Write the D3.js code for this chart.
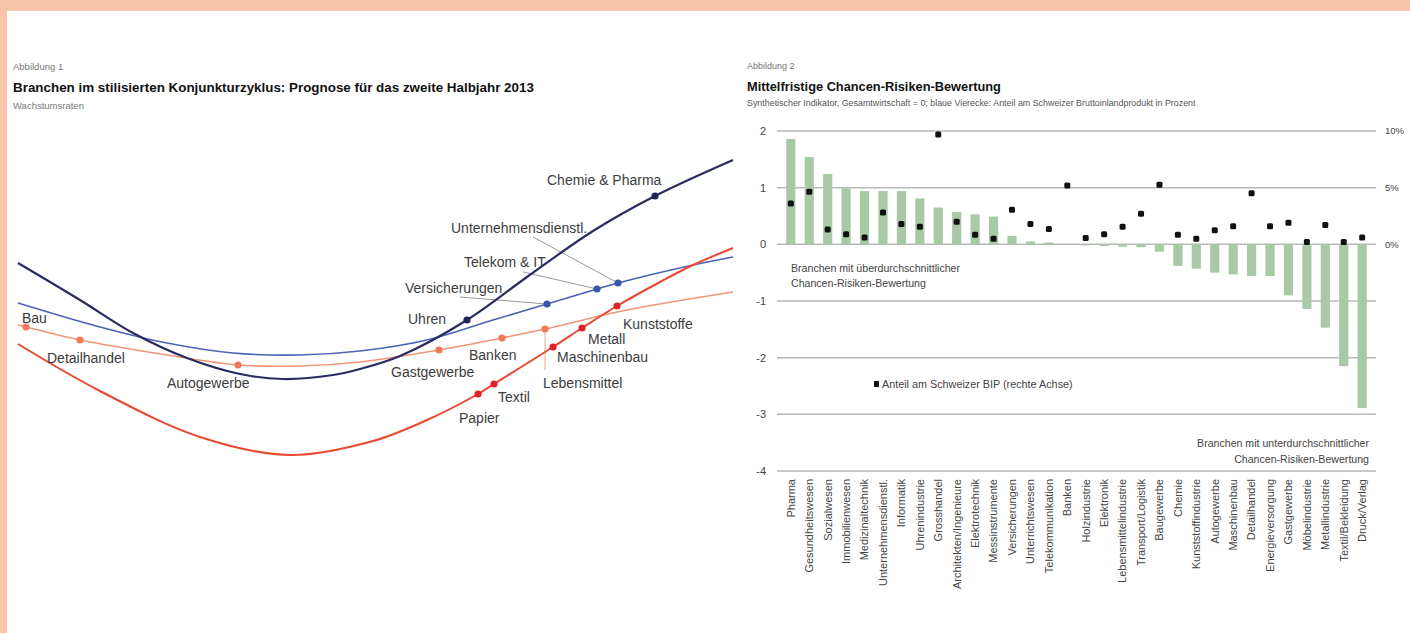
<!DOCTYPE html>
<html>
<head>
<meta charset="utf-8">
<script src="https://cdn.jsdelivr.net/npm/d3@7"></script>
<style>
  body { margin: 0; background: #fff; }
  text { font-family: "Liberation Sans", Arial, sans-serif; }
</style>
</head>
<body>
<script>
// ---------- data: Abbildung 1 (stilisierter Konjunkturzyklus) ----------
// [phase, wachstum] in arbitrary units
var navyCurve = [[0,41.4],[12.4,34],[23,27.4],[33.8,22.4],[44.4,19.2],[53,18.2],[63,19],[68.4,20.2],[76.4,22.8],[89.8,30],[101.8,38.6],[115,47.8],[127.4,54.8],[143,62]];
var blueCurve = [[0,33.4],[16.4,28.6],[29.8,25.4],[43,23.4],[56.4,23],[68.4,23.8],[81.8,26],[95,30],[105.8,33.2],[115.8,36.2],[120,37.4],[135,41],[143,42.6]];
var salmonCurve = [[0,29],[1.6,28.6],[12.4,26],[29.8,23],[44,21],[56.4,20.8],[68.4,21.6],[84.2,24],[96.8,26.4],[105.4,28.2],[121.8,32],[143,35.6]];
var redCurve = [[0,25.2],[16.4,15.8],[36.4,6.6],[54.4,3],[71,5.8],[81.8,10],[92,15.2],[95.2,17.2],[107,24.6],[112.8,28.4],[119.8,32.8],[128.4,37.6],[135,41],[143,44.4]];

var navyDots = [["Uhren",89.8,30],["Chemie & Pharma",127.4,54.8]];
var blueDots = [["Versicherungen",105.8,33.2],["Telekom & IT",115.8,36.2],["Unternehmensdienstl.",120,37.4]];
var salmonDots = [["Bau",1.6,28.6],["Detailhandel",12.4,26],["Autogewerbe",44,21],["Gastgewerbe",84.2,24],["Banken",96.8,26.4],["Lebensmittel",105.4,28.2]];
var redDots = [["Papier",92,15.2],["Textil",95.2,17.2],["Maschinenbau",107,24.6],["Metall",112.8,28.4],["Kunststoffe",119.8,32.8]];

// ---------- data: Abbildung 2 (Chancen-Risiken-Bewertung) ----------
var branchen = ["Pharma","Gesundheitswesen","Sozialwesen","Immobilienwesen","Medizinaltechnik","Unternehmensdienstl.","Informatik","Uhrenindustrie","Grosshandel","Architekten/Ingenieure","Elektrotechnik","Messinstrumente","Versicherungen","Unterrichtswesen","Telekommunikation","Banken","Holzindustrie","Elektronik","Lebensmittelindustrie","Transport/Logistik","Baugewerbe","Chemie","Kunststoffindustrie","Autogewerbe","Maschinenbau","Detailhandel","Energieversorgung","Gastgewerbe","Möbelindustrie","Metallindustrie","Textil/Bekleidung","Druck/Verlag"];
var indikator = [1.86,1.54,1.24,0.99,0.94,0.94,0.94,0.81,0.65,0.57,0.53,0.49,0.15,0.05,0.03,-0.01,-0.02,-0.03,-0.04,-0.05,-0.13,-0.38,-0.43,-0.5,-0.53,-0.56,-0.56,-0.9,-1.14,-1.47,-2.15,-2.89];
var bipAnteil = [3.6,4.65,1.3,0.9,0.6,2.8,1.8,1.55,9.7,2.0,0.85,0.5,3.05,1.8,1.35,5.2,0.55,0.9,1.55,2.7,5.25,0.85,0.5,1.25,1.6,4.5,1.6,1.9,0.2,1.7,0.2,0.6];
var leftTicks = [2,1,0,-1,-2,-3,-4];
var rightTicks = [0,5,10];

// ---------- layout ----------
var width = 1410, height = 633;
var svg = d3.select("body").append("svg").attr("width", width).attr("height", height);

svg.append("rect").attr("width", width).attr("height", height).attr("fill", "#f8c5aa");
svg.append("rect").attr("x", 7).attr("y", 11).attr("width", width - 7).attr("height", height - 11).attr("fill", "#fff");

// ===== left chart =====
var x1 = d3.scaleLinear().domain([0, 143]).range([18, 733]);
var y1 = d3.scaleLinear().domain([0, 64]).range([470, 150]);

svg.append("text").attr("x", 13).attr("y", 70).attr("font-size", 9.5).attr("fill", "#777").text("Abbildung 1");
svg.append("text").attr("x", 13).attr("y", 92).attr("font-size", 13.4).attr("font-weight", "bold").attr("fill", "#111")
  .text("Branchen im stilisierten Konjunkturzyklus: Prognose für das zweite Halbjahr 2013");
svg.append("text").attr("x", 13).attr("y", 109).attr("font-size", 9.5).attr("fill", "#777").text("Wachstumsraten");

var line = d3.line()
  .x(function(d) { return x1(d[0]); })
  .y(function(d) { return y1(d[1]); })
  .curve(d3.curveCatmullRom.alpha(0.5));

// label offsets (pixels, relative to dot)
var labelOff = {
  "Bau": [-4, -9], "Detailhandel": [-33, 18], "Autogewerbe": [-71, 18], "Gastgewerbe": [-48, 22],
  "Banken": [-33, 17], "Lebensmittel": [-2, 54], "Maschinenbau": [4, 10], "Metall": [6, 11],
  "Kunststoffe": [6, 18], "Textil": [4, 13], "Papier": [-19, 24], "Uhren": [-59, -1],
  "Chemie & Pharma": [-108, -16], "Versicherungen": [-142, -16], "Telekom & IT": [-133, -27],
  "Unternehmensdienstl.": [-167, -55]
};
var leaderOff = {
  "Versicherungen": [-87, -7], "Telekom & IT": [-74, -17], "Unternehmensdienstl.": [-85, -46],
  "Lebensmittel": [0, 41]
};

var series = [
  { curve: blueCurve, dots: blueDots, color: "#4a64b2", dot: "#3656aa", w: 1.6 },
  { curve: salmonCurve, dots: salmonDots, color: "#f19577", dot: "#ef7a58", w: 1.6 },
  { curve: redCurve, dots: redDots, color: "#e8492f", dot: "#e0202a", w: 2 },
  { curve: navyCurve, dots: navyDots, color: "#282c61", dot: "#1f2558", w: 2.2 }
];

// leader lines
series.forEach(function(s) {
  s.dots.forEach(function(d) {
    var off = leaderOff[d[0]];
    if (!off) return;
    svg.append("line")
      .attr("x1", x1(d[1])).attr("y1", y1(d[2]))
      .attr("x2", x1(d[1]) + off[0]).attr("y2", y1(d[2]) + off[1])
      .attr("stroke", d[0] === "Lebensmittel" ? "#f3a58c" : "#9a9a9a").attr("stroke-width", 1);
  });
});

series.forEach(function(s) {
  svg.append("path").datum(s.curve).attr("d", line)
    .attr("fill", "none").attr("stroke", s.color).attr("stroke-width", s.w);
});

series.forEach(function(s) {
  svg.selectAll(null).data(s.dots).enter().append("circle")
    .attr("cx", function(d) { return x1(d[1]); })
    .attr("cy", function(d) { return y1(d[2]); })
    .attr("r", 3.6).attr("fill", s.dot);
  svg.selectAll(null).data(s.dots).enter().append("text")
    .attr("x", function(d) { return x1(d[1]) + labelOff[d[0]][0]; })
    .attr("y", function(d) { return y1(d[2]) + labelOff[d[0]][1]; })
    .attr("dy", "0.35em").attr("font-size", 14).attr("fill", "#3c3c3c")
    .text(function(d) { return d[0]; });
});

// ===== right chart =====
svg.append("text").attr("x", 747).attr("y", 69).attr("font-size", 9).attr("fill", "#777").text("Abbildung 2");
svg.append("text").attr("x", 747).attr("y", 91).attr("font-size", 12.8).attr("font-weight", "bold").attr("fill", "#111")
  .text("Mittelfristige Chancen-Risiken-Bewertung");
svg.append("text").attr("x", 747).attr("y", 106).attr("font-size", 8.9).attr("fill", "#555")
  .text("Synthetischer Indikator, Gesamtwirtschaft = 0; blaue Vierecke: Anteil am Schweizer Bruttoinlandprodukt in Prozent");

var x2 = d3.scaleBand().domain(branchen).range([777, 1376]).padding(0.5);
var y2 = d3.scaleLinear().domain([-4, 2]).range([471, 131]);
var y2r = d3.scaleLinear().domain([-20, 10]).range([471, 131]);

// gridlines + left ticks
svg.append("g").selectAll("line").data(leftTicks).enter().append("line")
  .attr("x1", 777).attr("x2", 1376)
  .attr("y1", function(d) { return y2(d); }).attr("y2", function(d) { return y2(d); })
  .attr("stroke", "#b9b9b9").attr("stroke-width", 1.5);

svg.append("g").selectAll("text").data(leftTicks).enter().append("text")
  .attr("x", 766).attr("y", function(d) { return y2(d); }).attr("dy", "0.35em")
  .attr("text-anchor", "end").attr("font-size", 11).attr("fill", "#444")
  .text(function(d) { return d; });

svg.append("g").selectAll("text").data(rightTicks).enter().append("text")
  .attr("x", 1385).attr("y", function(d) { return y2r(d); }).attr("dy", "0.35em")
  .attr("font-size", 9.5).attr("fill", "#444")
  .text(function(d) { return d + "%"; });

// bars
svg.append("g").selectAll("rect").data(branchen).enter().append("rect")
  .attr("x", function(d) { return x2(d); })
  .attr("width", x2.bandwidth())
  .attr("y", function(d, i) { return y2(Math.max(0, indikator[i])); })
  .attr("height", function(d, i) { return Math.abs(y2(indikator[i]) - y2(0)); })
  .attr("fill", "#a8c9a6");

// BIP squares
svg.append("g").selectAll("rect").data(branchen).enter().append("rect")
  .attr("x", function(d) { return x2(d) + x2.bandwidth() / 2 - 3; })
  .attr("y", function(d, i) { return y2r(bipAnteil[i]) - 3; })
  .attr("width", 6).attr("height", 6).attr("rx", 1.5)
  .attr("fill", "#111");

// category labels
svg.append("g").selectAll("text").data(branchen).enter().append("text")
  .attr("transform", function(d) { return "translate(" + (x2(d) + x2.bandwidth() / 2) + ",479) rotate(-90)"; })
  .attr("dy", "0.35em").attr("text-anchor", "end").attr("font-size", 11).attr("fill", "#444")
  .text(function(d) { return d; });

// annotations
svg.append("text").attr("x", 791).attr("y", 268).attr("dy", "0.35em").attr("font-size", 10.6).attr("fill", "#444")
  .text("Branchen mit überdurchschnittlicher");
svg.append("text").attr("x", 791).attr("y", 283).attr("dy", "0.35em").attr("font-size", 10.6).attr("fill", "#444")
  .text("Chancen-Risiken-Bewertung");
svg.append("rect").attr("x", 874).attr("y", 381).attr("width", 5).attr("height", 6).attr("fill", "#111");
svg.append("text").attr("x", 882).attr("y", 384).attr("dy", "0.35em").attr("font-size", 10.8).attr("fill", "#444")
  .text("Anteil am Schweizer BIP (rechte Achse)");
svg.append("text").attr("x", 1369).attr("y", 443).attr("dy", "0.35em").attr("text-anchor", "end").attr("font-size", 10.6).attr("fill", "#444")
  .text("Branchen mit unterdurchschnittlicher");
svg.append("text").attr("x", 1369).attr("y", 459).attr("dy", "0.35em").attr("text-anchor", "end").attr("font-size", 10.6).attr("fill", "#444")
  .text("Chancen-Risiken-Bewertung");
</script>
</body>
</html>
